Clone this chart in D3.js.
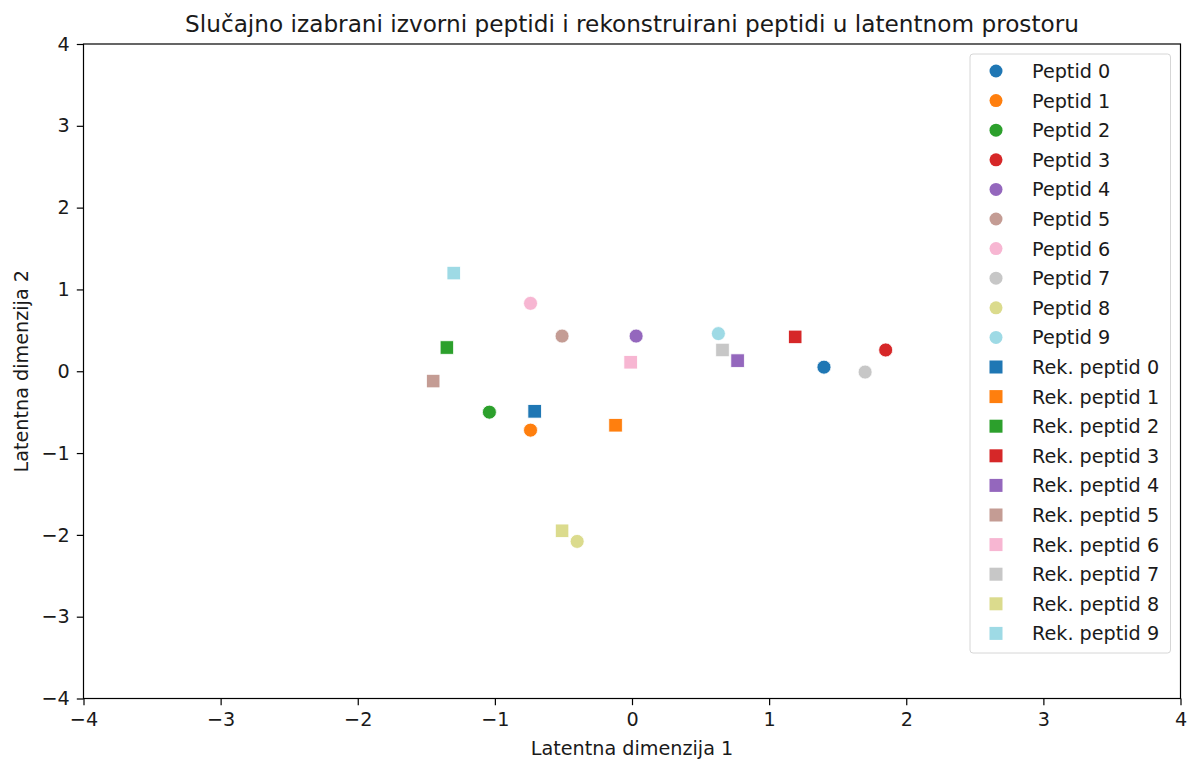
<!DOCTYPE html>
<html><head><meta charset="utf-8">
<script src="https://cdn.jsdelivr.net/npm/d3@7"></script>
<style>body{margin:0;background:#fff;font-family:"DejaVu Sans",sans-serif;}</style>
</head><body><svg id="c" width="1193" height="760"></svg>
<script>
const colors = ["#1f77b4","#ff7f0e","#2ca02c","#d62728","#9467bd","#c49c94","#f7b6d2","#c7c7c7","#dbdb8d","#9edae5"];
const origX = [1.40, -0.74, -1.04, 1.85, 0.03, -0.51, -0.74, 1.70, -0.40, 0.63];
const origY = [0.05, -0.72, -0.50, 0.26, 0.43, 0.43, 0.83, -0.01, -2.08, 0.46];
const recX = [-0.71, -0.12, -1.35, 1.19, 0.77, -1.45, -0.01, 0.66, -0.51, -1.30];
const recY = [-0.49, -0.66, 0.29, 0.42, 0.13, -0.12, 0.11, 0.26, -1.95, 1.20];
const origLabels = origX.map((_, i) => "Peptid " + i);
const recLabels = recX.map((_, i) => "Rek. peptid " + i);
const ticks = [-4, -3, -2, -1, 0, 1, 2, 3, 4];

const svg = d3.select("#c");
const L = 83.5, R = 1180.5, T = 44, B = 698.5;
const x = d3.scaleLinear().domain([-4, 4]).range([L, R]);
const y = d3.scaleLinear().domain([-4, 4]).range([B, T]);
const pal = d3.scaleOrdinal().domain(d3.range(10)).range(colors);
const FS = 19.2;

// title
svg.append("text").attr("x", (L + R) / 2).attr("y", 32).attr("text-anchor", "middle")
  .attr("font-size", 23.2).attr("fill", "#1a1a1a")
  .text("Slučajno izabrani izvorni peptidi i rekonstruirani peptidi u latentnom prostoru");

const data = d3.range(10).map(i => ({i, ox: origX[i], oy: origY[i], rx: recX[i], ry: recY[i]}));
svg.append("g").selectAll("circle").data(data).join("circle")
  .attr("cx", d => x(d.ox)).attr("cy", d => y(d.oy)).attr("r", 7)
  .attr("fill", d => pal(d.i))
  .attr("stroke", "#fff").attr("stroke-width", 0.8);
const s = 13.5;
svg.append("g").selectAll("rect").data(data).join("rect")
  .attr("x", d => x(d.rx) - s / 2).attr("y", d => y(d.ry) - s / 2)
  .attr("width", s).attr("height", s)
  .attr("fill", d => pal(d.i))
  .attr("stroke", "#fff").attr("stroke-width", 0.8);

// axes
const fmt = d => d < 0 ? "\u2212" + Math.abs(d) : d;
const xa = svg.append("g").attr("transform", `translate(0,${B})`)
  .call(d3.axisBottom(x).tickValues(ticks).tickSize(6.7).tickPadding(6).tickFormat(fmt));
const ya = svg.append("g").attr("transform", `translate(${L},0)`)
  .call(d3.axisLeft(y).tickValues(ticks).tickSize(6.7).tickPadding(7).tickFormat(fmt));
[xa, ya].forEach(a => {
  a.selectAll("text").attr("font-size", FS).attr("font-family", "DejaVu Sans, sans-serif").attr("fill", "#1a1a1a");
  a.selectAll("line").attr("stroke", "#000").attr("stroke-width", 1.2);
  a.select(".domain").remove();
});
xa.selectAll("text").attr("dy", "0.76em");
// frame
svg.append("rect").attr("x", L).attr("y", T).attr("width", R - L).attr("height", B - T)
  .attr("fill", "none").attr("stroke", "#000").attr("stroke-width", 1.2);

// axis labels
svg.append("text").attr("x", (L + R) / 2).attr("y", 755).attr("text-anchor", "middle")
  .attr("font-size", FS).attr("fill", "#1a1a1a").text("Latentna dimenzija 1");
svg.append("text").attr("transform", `translate(28,${(T + B) / 2}) rotate(-90)`).attr("text-anchor", "middle")
  .attr("font-size", FS).attr("fill", "#1a1a1a").text("Latentna dimenzija 2");

// legend
const lg = svg.append("g");
lg.append("rect").attr("x", 970).attr("y", 54).attr("width", 200.5).attr("height", 599)
  .attr("rx", 3).attr("fill", "#fff").attr("fill-opacity", 0.85).attr("stroke", "#d6d6d6");
const items = origLabels.map((t, i) => ({t, i, shape: "c"})).concat(recLabels.map((t, i) => ({t, i, shape: "s"})));
const step = 29.6, y0 = 71;
const it = lg.selectAll("g.it").data(items).join("g").attr("class", "it")
  .attr("transform", (d, k) => `translate(0,${y0 + k * step})`);
it.filter(d => d.shape === "c").append("circle").attr("cx", 996).attr("cy", 0).attr("r", 6.5)
  .attr("fill", d => pal(d.i));
it.filter(d => d.shape === "s").append("rect").attr("x", 996 - 6.5).attr("y", -6.5).attr("width", 13).attr("height", 13)
  .attr("fill", d => pal(d.i));
it.append("text").attr("x", 1032).attr("y", 0).attr("dy", "0.36em").attr("font-size", FS)
  .attr("fill", "#1a1a1a").text(d => d.t);
</script></body></html>
